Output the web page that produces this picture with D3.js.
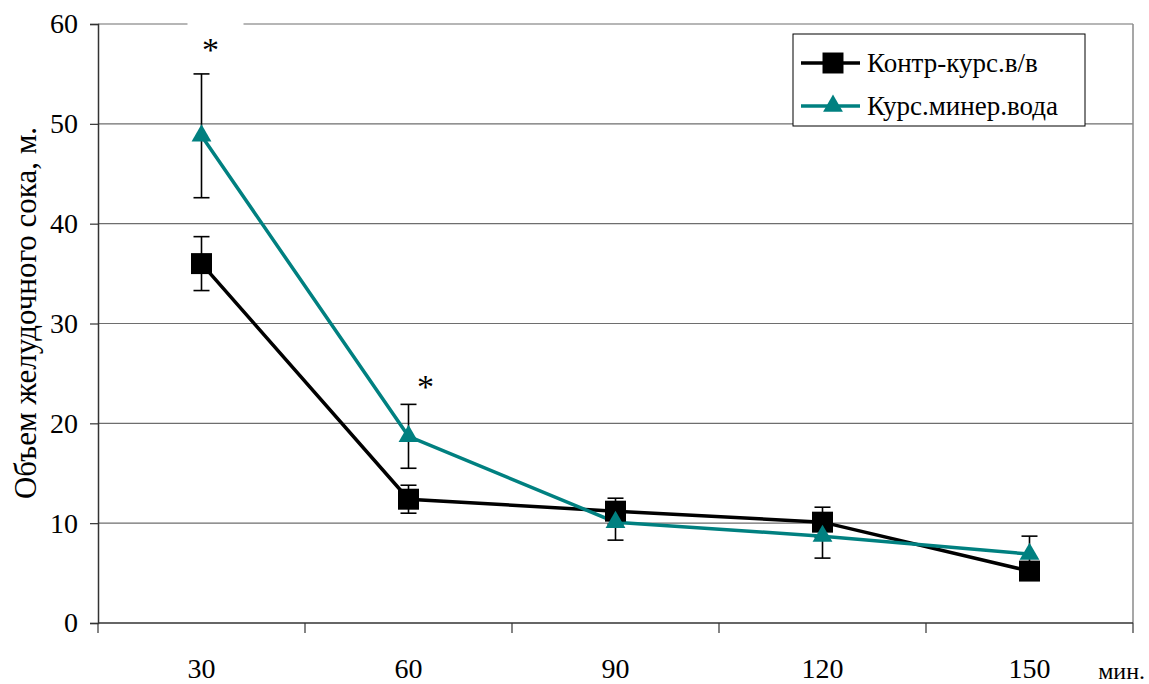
<!DOCTYPE html>
<html>
<head>
<meta charset="utf-8">
<script src="https://cdn.jsdelivr.net/npm/d3@7"></script>
<style>
  body { margin: 0; background: #fff; }
  svg text { font-family: "Liberation Serif", "DejaVu Serif", "Times New Roman", serif !important; }
</style>
</head>
<body>
<svg width="1149" height="684"></svg>
<script>
const categories = ['30', '60', '90', '120', '150'];
const controlValues = [36.0, 12.4, 11.2, 10.1, 5.2];
const controlErrors = [2.7, 1.4, 1.3, 1.5, 0.4];
const waterValues = [48.8, 18.7, 10.1, 8.7, 6.9];
const waterErrors = [6.2, 3.2, 1.8, 2.2, 1.8];
const yTicks = [0, 10, 20, 30, 40, 50, 60];
const starCategories = ['30', '60'];
const seriesNames = ['Контр-курс.в/в', 'Курс.минер.вода'];

const svg = d3.select('svg');
const margin = {top: 24, right: 16, bottom: 61, left: 98};
const width = +svg.attr('width');
const height = +svg.attr('height');
const chartWidth = width - margin.left - margin.right;
const chartHeight = height - margin.top - margin.bottom;
const teal = '#008080';
const serif = '"Liberation Serif", "DejaVu Serif", serif';

const chart = svg.append('g')
    .attr('transform', `translate(${margin.left},${margin.top})`);

const x = d3.scaleBand().domain(categories).range([0, chartWidth]).padding(0);
const y = d3.scaleLinear().domain([0, 60]).range([chartHeight, 0]);

// gridlines
chart.selectAll('.grid')
    .data(yTicks.filter(d => d > 0))
    .join('line')
    .attr('x1', 0).attr('x2', chartWidth)
    .attr('y1', d => y(d)).attr('y2', d => y(d))
    .attr('stroke', '#6e6e6e').attr('stroke-width', 1.2);

// right border
chart.append('line')
    .attr('x1', chartWidth).attr('x2', chartWidth)
    .attr('y1', 0).attr('y2', chartHeight)
    .attr('stroke', '#8a8a8a').attr('stroke-width', 1.5);

// y axis
const yAxis = chart.append('g')
    .call(d3.axisLeft(y).tickValues(yTicks).tickSize(8).tickPadding(12).tickFormat(d3.format('d')));
yAxis.attr('font-family', serif);
yAxis.select('.domain').attr('stroke', '#333').attr('stroke-width', 1.5);
yAxis.selectAll('.tick line').attr('stroke', '#333').attr('stroke-width', 1.2);
yAxis.selectAll('.tick text')
    .attr('font-size', 28).attr('fill', '#000');

// x axis: baseline and ticks at band boundaries
chart.append('line')
    .attr('x1', 0).attr('x2', chartWidth)
    .attr('y1', chartHeight).attr('y2', chartHeight)
    .attr('stroke', '#333').attr('stroke-width', 1.5);
const bounds = categories.map(c => x(c)).concat([chartWidth]);
chart.selectAll('.xtick')
    .data(bounds)
    .join('line')
    .attr('x1', d => d).attr('x2', d => d)
    .attr('y1', chartHeight).attr('y2', chartHeight + 10)
    .attr('stroke', '#333').attr('stroke-width', 1.2);
chart.selectAll('.xlabel')
    .data(categories)
    .join('text')
    .attr('x', d => x(d) + x.bandwidth() / 2)
    .attr('y', chartHeight + 55)
    .attr('text-anchor', 'middle')
    .attr('font-family', serif)
    .attr('font-size', 28)
    .text(d => d);

svg.append('text')
    .attr('x', 1145).attr('y', 679)
    .attr('text-anchor', 'end')
    .attr('font-family', serif)
    .attr('font-size', 24)
    .text('мин.');

svg.append('text')
    .attr('transform', 'translate(36,313) rotate(-90)')
    .attr('text-anchor', 'middle')
    .attr('font-family', serif)
    .attr('font-size', 31)
    .text('Объем желудочного сока, м.');

const cx = c => x(c) + x.bandwidth() / 2;

// error bars
function errorBars(values, errors, dir) {
  const g = chart.append('g');
  categories.forEach((c, i) => {
    const v1 = values[i] + dir * errors[i];
    g.append('line')
      .attr('x1', cx(c)).attr('x2', cx(c))
      .attr('y1', y(values[i])).attr('y2', y(v1))
      .attr('stroke', '#000').attr('stroke-width', 1.6);
    g.append('line')
      .attr('x1', cx(c) - 8).attr('x2', cx(c) + 8)
      .attr('y1', y(v1)).attr('y2', y(v1))
      .attr('stroke', '#000').attr('stroke-width', 1.6);
  });
}
errorBars(controlValues, controlErrors, 1);
errorBars(controlValues, controlErrors, -1);
errorBars(waterValues, waterErrors, 1);
errorBars(waterValues, waterErrors, -1);

const line = d3.line().x((d, i) => cx(categories[i])).y(d => y(d));

chart.append('path')
    .datum(controlValues)
    .attr('d', line)
    .attr('fill', 'none').attr('stroke', '#000').attr('stroke-width', 3.5);
chart.append('path')
    .datum(waterValues)
    .attr('d', line)
    .attr('fill', 'none').attr('stroke', teal).attr('stroke-width', 3.5);

const square = d3.symbol().type(d3.symbolSquare).size(440);
const triangle = d3.symbol().type(d3.symbolTriangle).size(170);

chart.selectAll('.sq')
    .data(controlValues)
    .join('path')
    .attr('d', square)
    .attr('transform', (d, i) => `translate(${cx(categories[i])},${y(d)})`)
    .attr('fill', '#000');
chart.selectAll('.tri')
    .data(waterValues)
    .join('path')
    .attr('d', triangle)
    .attr('transform', (d, i) => `translate(${cx(categories[i])},${y(d)})`)
    .attr('fill', teal);

// significance stars
const starDx = [9, 17];
const starDy = [-13, -6];
starCategories.forEach((c, k) => {
  const i = categories.indexOf(c);
  const top = y(waterValues[i] + waterErrors[i]);
  if (k === 0) {
    chart.append('rect')
      .attr('x', cx(c) - 14).attr('y', top - 60)
      .attr('width', 56).attr('height', 45)
      .attr('fill', '#fff');
  }
  chart.append('text')
    .attr('x', cx(c) + starDx[k])
    .attr('y', top + starDy[k])
    .attr('text-anchor', 'middle')
    .attr('font-family', serif)
    .attr('font-size', 34)
    .text('*');
});

// legend
const legend = svg.append('g').attr('transform', 'translate(793,34)');
legend.append('rect')
    .attr('width', 292).attr('height', 92)
    .attr('fill', '#fff').attr('stroke', '#000').attr('stroke-width', 1);
const legendColors = ['#000', teal];
const legendSymbols = [square, triangle];
seriesNames.forEach((name, i) => {
  const ly = 29 + i * 43;
  legend.append('line')
    .attr('x1', 8).attr('x2', 67).attr('y1', ly).attr('y2', ly)
    .attr('stroke', legendColors[i]).attr('stroke-width', 3.5);
  legend.append('path')
    .attr('d', legendSymbols[i])
    .attr('transform', `translate(40,${ly})`)
    .attr('fill', legendColors[i]);
  legend.append('text')
    .attr('x', 74).attr('y', ly + 9)
    .attr('font-family', serif)
    .attr('font-size', 27)
    .text(name);
});
</script>
</body>
</html>
